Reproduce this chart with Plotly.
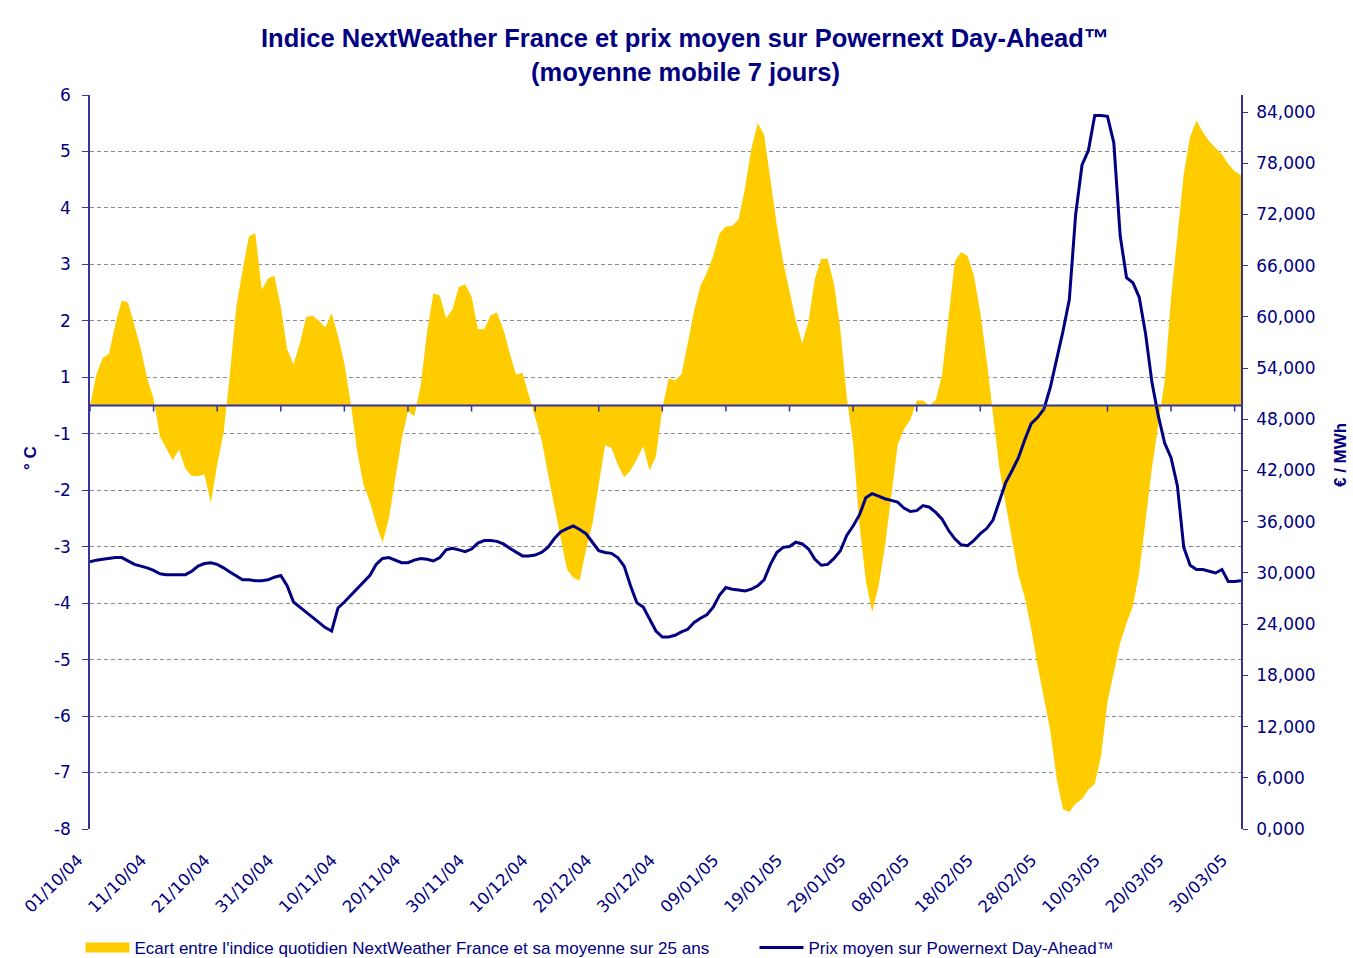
import pandas as pd
import plotly.graph_objects as go

# ---------------- data ----------------
start_date = "2004-10-01"
n_days = 182
dates = pd.date_range(start_date, periods=n_days, freq="D")

# Ecart (°C, relative to baseline, one grid step = 1)
ecart = [
    0.0, 0.55, 0.84, 0.92, 1.45, 1.86, 1.82, 1.40, 1.00, 0.48,
    0.12, -0.55, -0.75, -0.97, -0.78, -1.12, -1.25, -1.25, -1.22, -1.72,
    -1.05, -0.48, 0.55, 1.75, 2.40, 3.00, 3.05, 2.05, 2.25, 2.30,
    1.75, 1.00, 0.73, 1.10, 1.57, 1.59, 1.50, 1.38, 1.64, 1.23,
    0.75, 0.05, -0.80, -1.40, -1.70, -2.10, -2.43, -2.00, -1.30, -0.60,
    -0.10, -0.19, 0.35, 1.30, 1.99, 1.95, 1.55, 1.70, 2.10, 2.15,
    1.93, 1.35, 1.35, 1.60, 1.65, 1.35, 0.93, 0.55, 0.58, 0.20,
    -0.20, -0.60, -1.20, -1.75, -2.30, -2.90, -3.05, -3.10, -2.55, -2.10,
    -1.40, -0.70, -0.75, -1.05, -1.27, -1.15, -0.95, -0.72, -1.15, -0.90,
    -0.05, 0.48, 0.45, 0.55, 1.10, 1.68, 2.12, 2.35, 2.65, 3.05,
    3.17, 3.18, 3.30, 3.85, 4.55, 5.00, 4.80, 4.00, 3.20, 2.55,
    2.05, 1.50, 1.10, 1.50, 2.25, 2.60, 2.60, 2.15, 1.35, 0.15,
    -0.67, -2.10, -3.10, -3.66, -3.20, -2.50, -1.60, -0.70, -0.42, -0.25,
    0.09, 0.09, 0.00, 0.10, 0.55, 1.50, 2.55, 2.72, 2.65, 2.30,
    1.65, 0.80, -0.20, -1.10, -1.75, -2.40, -3.00, -3.40, -3.95, -4.60,
    -5.20, -5.75, -6.60, -7.15, -7.20, -7.05, -6.97, -6.80, -6.70, -6.20,
    -5.25, -4.75, -4.20, -3.85, -3.55, -2.95, -2.05, -1.10, -0.33, 0.45,
    1.90, 3.00, 4.10, 4.76, 5.05, 4.84, 4.68, 4.56, 4.45, 4.28,
    4.15, 4.08,
]

# Prix moyen Powernext Day-Ahead (€/MWh)
prix = [
    31.3, 31.5, 31.6, 31.7, 31.8, 31.8, 31.4, 31.0, 30.8, 30.6,
    30.3, 29.9, 29.8, 29.8, 29.8, 29.8, 30.2, 30.8, 31.1, 31.2,
    31.0, 30.6, 30.1, 29.6, 29.2, 29.2, 29.1, 29.1, 29.2, 29.5,
    29.7, 28.5, 26.6, 26.0, 25.4, 24.8, 24.2, 23.6, 23.2, 25.9,
    26.6, 27.4, 28.1, 29.0, 29.7, 31.0, 31.7, 31.8, 31.5, 31.2,
    31.2, 31.5, 31.7, 31.6, 31.4, 31.8, 32.7, 32.9, 32.7, 32.5,
    32.8, 33.5, 33.8, 33.8, 33.7, 33.4, 32.9, 32.4, 32.0, 32.0,
    32.1, 32.4, 33.0, 34.0, 34.8, 35.2, 35.5, 35.1, 34.6, 33.6,
    32.6, 32.4, 32.3, 31.8, 30.8, 28.5, 26.5, 26.0, 24.6, 23.2,
    22.5, 22.5, 22.7, 23.1, 23.4, 24.2, 24.7, 25.1, 26.0, 27.4,
    28.3, 28.1, 28.0, 27.9, 28.1, 28.5, 29.2, 31.0, 32.4, 33.0,
    33.1, 33.6, 33.4, 32.8, 31.6, 30.9, 31.0, 31.7, 32.6, 34.4,
    35.5, 36.8, 38.8, 39.3, 39.0, 38.7, 38.5, 38.3, 37.6, 37.2,
    37.3, 37.9, 37.7, 37.1, 36.3, 35.0, 34.0, 33.3, 33.2, 33.8,
    34.6, 35.2, 36.2, 38.5, 40.6, 42.0, 43.5, 45.6, 47.5, 48.2,
    49.2, 51.7, 55.0, 58.3, 62.0, 72.0, 77.8, 79.5, 83.6, 83.6,
    83.5, 80.4, 69.5, 64.6, 64.0, 62.3, 58.0, 52.3, 48.4, 45.2,
    43.5, 40.2, 33.0, 30.9, 30.4, 30.4, 30.2, 30.0, 30.4, 29.0,
    29.0, 29.1,
]

left_tick_labels = ["6", "5", "4", "3", "2", "1", "-1", "-2", "-3", "-4", "-5", "-6", "-7", "-8"]
right_tick_values = [0, 6, 12, 18, 24, 30, 36, 42, 48, 54, 60, 66, 72, 78, 84]
right_tick_labels = ["%d,000" % v for v in right_tick_values]
x_tick_dates = pd.date_range(start_date, "2005-03-30", freq="10D")
x_tick_labels = [d.strftime("%d/%m/%y") for d in x_tick_dates]

name_ecart = "Ecart entre l'indice quotidien NextWeather France et sa moyenne sur 25 ans"
name_prix = "Prix moyen sur Powernext Day-Ahead™"
title_line1 = "Indice NextWeather France et prix moyen sur Powernext Day-Ahead™"
title_line2 = "(moyenne mobile 7 jours)"

# ---------------- styles ----------------
NAVY = "#000080"
AXIS = "#333399"
GOLD = "#FFCC00"
GRID = "#8c8c8c"
ARIAL = "Arial, Liberation Sans, sans-serif"
YTICKFONT = dict(family="DejaVu Sans, Verdana, sans-serif", size=17, color=NAVY)
XTICKFONT = dict(family="DejaVu Sans, Verdana, sans-serif", size=16.5, color=NAVY)
LEGFONT = dict(family=ARIAL, size=17, color=NAVY)

fig = go.Figure()
fig.add_trace(go.Scatter(
    x=dates, y=ecart, name=name_ecart, mode="lines", fill="tozeroy",
    fillcolor=GOLD, line=dict(width=0, color=GOLD), hoverinfo="skip",
    showlegend=False,
))
# legend-only entry giving the block-shaped gold swatch of the original
fig.add_trace(go.Scatter(
    x=[None], y=[None], name=name_ecart, mode="lines",
    line=dict(width=11, color=GOLD), legend="legend", showlegend=True,
))
fig.add_trace(go.Scatter(
    x=dates, y=prix, name=name_prix, mode="lines", yaxis="y2",
    line=dict(width=3, color=NAVY), legend="legend2",
))

left_tickvals = [5.5 - i for i in range(len(left_tick_labels))]

shapes = [dict(type="line", xref="paper", x0=0, x1=1, yref="y", y0=0, y1=0,
               line=dict(color=AXIS, width=2), layer="above")]
for d in x_tick_dates:
    shapes.append(dict(type="line", xref="x", x0=d, x1=d, yref="y",
                       ysizemode="pixel", yanchor=0, y0=0, y1=-6,
                       line=dict(color=AXIS, width=1.5), layer="above"))

fig.update_layout(
    width=1353, height=958,
    margin=dict(l=90, r=112, t=95, b=129, autoexpand=False),
    paper_bgcolor="white", plot_bgcolor="white",
    xaxis=dict(type="date", range=[dates[0], dates[-1]], tickvals=x_tick_dates,
               ticktext=x_tick_labels, tickangle=-45, ticks="outside", ticklen=14,
               tickcolor="rgba(0,0,0,0)", ticklabelshift=-12,
               showgrid=False, showline=False, zeroline=False,
               tickfont=XTICKFONT, automargin=False),
    yaxis=dict(range=[-7.5, 5.5], tickvals=left_tickvals, ticktext=left_tick_labels,
               showgrid=True, gridcolor=GRID, griddash="4px,3px", gridwidth=1,
               zeroline=False, showline=True, linecolor=AXIS, linewidth=1.5,
               ticks="outside", ticklen=6, tickcolor=AXIS, tickfont=YTICKFONT,
               ticklabelstandoff=8, automargin=False),
    yaxis2=dict(overlaying="y", side="right", range=[0, 86.0],
                tickvals=right_tick_values, ticktext=right_tick_labels,
                showgrid=False, zeroline=False, showline=True, linecolor=AXIS,
                linewidth=1.5, ticks="outside", ticklen=5, tickcolor=AXIS,
                tickfont=YTICKFONT, ticklabelstandoff=5, automargin=False),
    shapes=shapes,
    annotations=[
        dict(text="<b>" + title_line1 + "</b>", xref="paper", yref="paper",
             x=(685 - 90) / 1151, xanchor="center", y=1 + (95 - 38) / 734, yanchor="middle",
             showarrow=False, font=dict(family=ARIAL, size=25.5, color=NAVY)),
        dict(text="<b>" + title_line2 + "</b>", xref="paper", yref="paper",
             x=(685 - 90) / 1151, xanchor="center", y=1 + (95 - 72) / 734, yanchor="middle",
             showarrow=False, font=dict(family=ARIAL, size=25.5, color=NAVY)),
        dict(text="<b>° C</b>", xref="paper", yref="paper", x=(30 - 90) / 1151,
             xanchor="center", y=(829 - 458) / 734, yanchor="middle",
             textangle=-90, showarrow=False, font=dict(family=ARIAL, size=17, color=NAVY)),
        dict(text="<b>€ / MWh</b>", xref="paper", yref="paper", x=(1340 - 90) / 1151,
             xanchor="center", y=(829 - 455) / 734, yanchor="middle",
             textangle=-90, showarrow=False, font=dict(family=ARIAL, size=17, color=NAVY)),
    ],
    legend=dict(orientation="h", x=(80.5 - 90) / 1151, xanchor="left",
                y=-(948 - 829) / 734, yanchor="middle",
                font=LEGFONT, bgcolor="rgba(0,0,0,0)", itemwidth=44),
    legend2=dict(orientation="h", x=(754.5 - 90) / 1151, xanchor="left",
                 y=-(948 - 829) / 734, yanchor="middle",
                 font=LEGFONT, bgcolor="rgba(0,0,0,0)", itemwidth=44),
    showlegend=True,
)

fig.write_html("out.html", config={"displayModeBar": False},
               post_script="document.body.style.margin='0';document.body.style.overflow='hidden';")
